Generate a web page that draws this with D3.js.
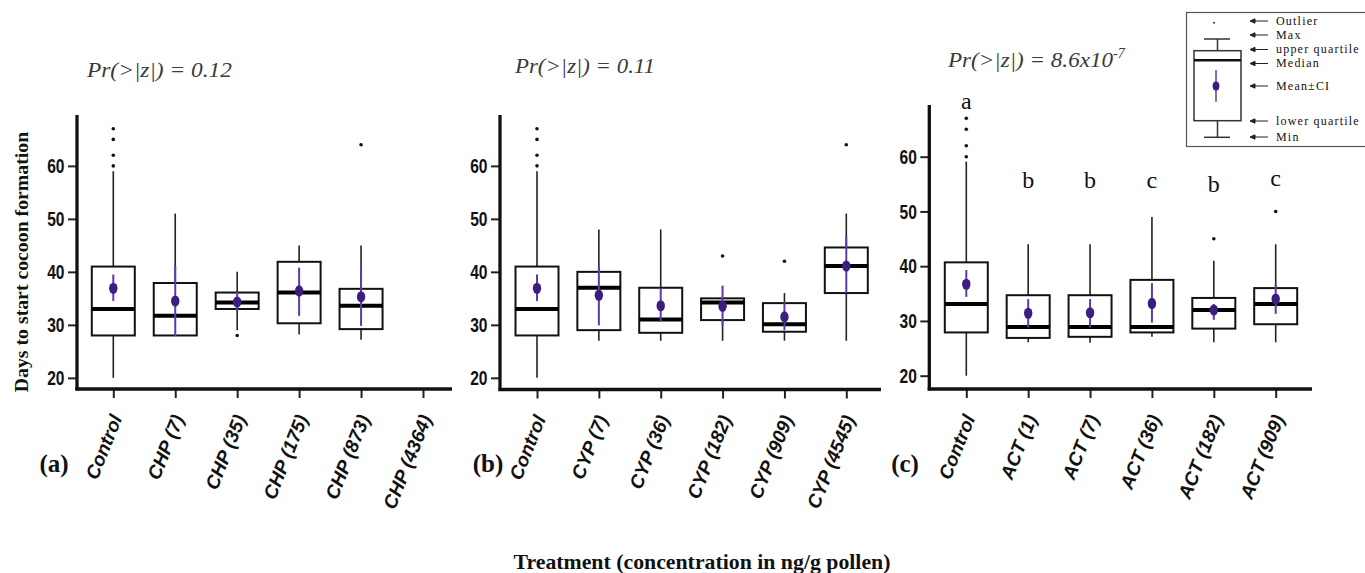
<!DOCTYPE html>
<html>
<head>
<meta charset="utf-8">
<script src="https://cdn.jsdelivr.net/npm/d3@7"></script>
<style>
  body { margin: 0; background: #fff; }
</style>
</head>
<body>
<svg id="chart"></svg>
<script>
// values (days to start cocoon formation)
const yTicks = [20, 30, 40, 50, 60];

const chpLabels = ["Control", "CHP (7)", "CHP (35)", "CHP (175)", "CHP (873)", "CHP (4364)"];
const chpBox = [[20, 28, 33, 41, 59], [28, 28, 31.7, 37.9, 51], [29, 33, 34.2, 36.1, 40], [28.2, 30.3, 36.1, 41.9, 45], [27.2, 29.2, 33.6, 36.8, 45], null];
const chpOut = [[60, 62, 65, 67], [], [28], [], [64], []];
const chpMean = [36.9, 34.5, 34.3, 36.4, 35.3, null];
const chpCI = [[34.5, 39.5], [27.9, 41.1], [32.5, 36.2], [31.7, 40.8], [29.8, 40.8], null];

const cypLabels = ["Control", "CYP (7)", "CYP (36)", "CYP (182)", "CYP (909)", "CYP (4545)"];
const cypBox = [[20, 28, 33, 41, 59], [27, 29, 37, 40, 48], [27, 28.5, 31, 37, 48], [27, 30.9, 34.2, 35, 35], [27, 28.7, 30.1, 34.1, 36], [27, 36, 41.1, 44.6, 51]];
const cypOut = [[60, 62, 65, 67], [], [], [43], [42], [64]];
const cypMean = [36.9, 35.6, 33.6, 33.5, 31.5, 41.1];
const cypCI = [[34.5, 39.5], [29.9, 41.3], [30.6, 36.9], [29.9, 37.4], [29, 34.3], [36, 46.6]];

const actLabels = ["Control", "ACT (1)", "ACT (7)", "ACT (36)", "ACT (182)", "ACT (909)"];
const actBox = [[20, 27.9, 33.1, 40.7, 59.1], [26.1, 26.9, 28.9, 34.7, 44], [26, 27.1, 28.9, 34.7, 44], [27.1, 27.9, 28.9, 37.5, 49], [26.1, 28.6, 32, 34.2, 41], [26.1, 29.4, 33.1, 36, 44]];
const actOut = [[60, 62, 65, 67], [], [], [], [45], [50]];
const actMean = [36.7, 31.4, 31.5, 33.2, 32, 34];
const actCI = [[34.4, 39.3], [28.8, 34], [28.8, 34], [29.7, 36.9], [30.2, 33.1], [31.3, 36.6]];
const actLetters = ["a", "b", "b", "c", "b", "c"];
const actLetterAt = [70.2, 55.6, 55.6, 55.7, 55, 56.1];

const legendLabels = ["Outlier", "Max", "upper quartile", "Median", "Mean\u00b1CI", "lower quartile", "Min"];

const width = 1365, height = 573;
const serif = "'Liberation Serif', 'Times New Roman', serif";
const sans = "'Liberation Sans', Arial, sans-serif";
const dotColor = "#3d1d80", ciColor = "#5b3caa";
const squeeze = 0.76; // condensed look of the tick numbers

const svg = d3.select("#chart")
    .attr("width", width)
    .attr("height", height)
    .attr("viewBox", [0, 0, width, height]);

function drawPanel(p, labels, box, out, mean, ci) {
  const x = d3.scalePoint().domain(labels).range([p.first, p.last]);
  const y = d3.scaleLinear().domain(p.domain).range([p.yBot, p.yTop]);
  const g = svg.append("g");

  // y axis
  g.append("g")
      .attr("transform", `translate(${p.x0},0)`)
      .call(d3.axisLeft(y).tickValues(yTicks).tickSize(9).tickPadding(3))
      .call(a => a.select(".domain").remove())
      .call(a => a.selectAll(".tick line").attr("stroke", "#222").attr("stroke-width", 2))
      .call(a => a.selectAll(".tick text")
          .attr("x", -12.5 / squeeze)
          .attr("transform", `scale(${squeeze},1)`)
          .attr("fill", "#111")
          .style("font-family", sans)
          .style("font-weight", "bold")
          .style("font-size", "20.5px"));
  g.append("line")
      .attr("x1", p.x0).attr("x2", p.x0)
      .attr("y1", p.yTop).attr("y2", p.yBot + 1.6)
      .attr("stroke", "#111").attr("stroke-width", 3.3);

  // x axis
  g.append("g")
      .attr("transform", `translate(0,${p.yBot})`)
      .call(d3.axisBottom(x).tickSize(9))
      .call(a => a.select(".domain").remove())
      .call(a => a.selectAll(".tick line").attr("stroke", "#222").attr("stroke-width", 2))
      .call(a => a.selectAll(".tick text")
          .attr("x", 0).attr("y", 0).attr("dy", "0.72em")
          .attr("transform", "translate(-4,24) rotate(-68)")
          .attr("text-anchor", "end")
          .attr("fill", "#111")
          .style("font-family", sans)
          .style("font-weight", "bold")
          .style("font-style", "italic")
          .style("font-size", "19px"));
  g.append("line")
      .attr("x1", p.x0 - 1.6).attr("x2", p.xEnd)
      .attr("y1", p.yBot).attr("y2", p.yBot)
      .attr("stroke", "#111").attr("stroke-width", 3.3);

  const bw = 43;
  const idx = d3.range(labels.length).filter(i => box[i]);
  const cx = i => x(labels[i]);

  const b = g.append("g");
  // whiskers
  b.selectAll(".wlo").data(idx).join("line")
      .attr("x1", cx).attr("x2", cx)
      .attr("y1", i => y(box[i][0])).attr("y2", i => y(box[i][1]))
      .attr("stroke", "#222").attr("stroke-width", 1.6);
  b.selectAll(".whi").data(idx).join("line")
      .attr("x1", cx).attr("x2", cx)
      .attr("y1", i => y(box[i][3])).attr("y2", i => y(box[i][4]))
      .attr("stroke", "#222").attr("stroke-width", 1.6);
  // boxes
  b.selectAll("rect").data(idx).join("rect")
      .attr("x", i => cx(i) - bw / 2)
      .attr("y", i => y(box[i][3]))
      .attr("width", bw)
      .attr("height", i => y(box[i][1]) - y(box[i][3]))
      .attr("fill", "none")
      .attr("stroke", "#111").attr("stroke-width", 2);
  // medians
  b.selectAll(".med").data(idx).join("line")
      .attr("x1", i => cx(i) - bw / 2).attr("x2", i => cx(i) + bw / 2)
      .attr("y1", i => y(box[i][2])).attr("y2", i => y(box[i][2]))
      .attr("stroke", "#000").attr("stroke-width", 4);
  // mean +- CI
  b.selectAll(".ci").data(idx.filter(i => ci[i])).join("line")
      .attr("x1", cx).attr("x2", cx)
      .attr("y1", i => y(ci[i][0])).attr("y2", i => y(ci[i][1]))
      .attr("stroke", ciColor).attr("stroke-width", 2);
  b.selectAll("ellipse").data(idx.filter(i => mean[i] != null)).join("ellipse")
      .attr("cx", cx).attr("cy", i => y(mean[i]))
      .attr("rx", 4.2).attr("ry", 5.6)
      .attr("fill", dotColor);
  // outliers
  const pts = idx.flatMap(i => out[i].map(v => ({ i, v })));
  b.selectAll("circle").data(pts).join("circle")
      .attr("cx", d => cx(d.i)).attr("cy", d => y(d.v))
      .attr("r", 1.8).attr("fill", "#111");

  return { x, y };
}

const pa = drawPanel({ x0: 77, xEnd: 452, first: 113.3, last: 423, yTop: 115, yBot: 389, domain: [17.9, 69.6] },
    chpLabels, chpBox, chpOut, chpMean, chpCI);
const pb = drawPanel({ x0: 500, xEnd: 881, first: 537, last: 846.3, yTop: 115, yBot: 389.5, domain: [17.8, 69.6] },
    cypLabels, cypBox, cypOut, cypMean, cypCI);
const pc = drawPanel({ x0: 929.3, xEnd: 1312, first: 966.3, last: 1275.7, yTop: 105, yBot: 389, domain: [17.57, 69.44] },
    actLabels, actBox, actOut, actMean, actCI);

// significance letters in panel (c)
svg.append("g").selectAll("text").data(actLetters).join("text")
    .attr("x", (d, i) => pc.x(actLabels[i]))
    .attr("y", (d, i) => pc.y(actLetterAt[i]))
    .attr("dy", "0.32em")
    .attr("text-anchor", "middle")
    .style("font-family", serif)
    .style("font-size", "24px")
    .attr("fill", "#111")
    .text(d => d);

// p-values
const pStyle = s => s.style("font-family", serif).style("font-style", "italic")
    .style("font-size", "22px").attr("fill", "#3a3a3a");
svg.append("text").attr("x", 87).attr("y", 77).call(pStyle)
    .attr("textLength", 145).attr("lengthAdjust", "spacingAndGlyphs")
    .text("Pr(>|z|) = 0.12");
svg.append("text").attr("x", 515).attr("y", 73).call(pStyle)
    .attr("textLength", 140).attr("lengthAdjust", "spacingAndGlyphs")
    .text("Pr(>|z|) = 0.11");
const p3 = svg.append("text").attr("x", 948).attr("y", 67).call(pStyle);
p3.append("tspan").attr("textLength", 165).attr("lengthAdjust", "spacingAndGlyphs").text("Pr(>|z|) = 8.6x10");
p3.append("tspan").attr("dy", -9).style("font-size", "14px").text("-7");

// panel tags
[["(a)", 54], ["(b)", 488], ["(c)", 905]].forEach(([t, cx]) => {
  svg.append("text").attr("x", cx).attr("y", 472)
      .attr("text-anchor", "middle")
      .style("font-family", serif).style("font-weight", "bold").style("font-size", "25px")
      .attr("fill", "#111").text(t);
});

// axis titles
svg.append("text")
    .attr("transform", "translate(28,262) rotate(-90)")
    .attr("text-anchor", "middle")
    .style("font-family", serif).style("font-weight", "bold").style("font-size", "19.8px")
    .attr("fill", "#111")
    .text("Days to start cocoon formation");
svg.append("text")
    .attr("x", 702).attr("y", 569)
    .attr("text-anchor", "middle")
    .style("font-family", serif).style("font-weight", "bold").style("font-size", "21.8px")
    .attr("fill", "#111")
    .text("Treatment (concentration in ng/g pollen)");

// legend key
const lg = svg.append("g");
lg.append("rect").attr("x", 1186.5).attr("y", 12.5).attr("width", 200).attr("height", 134)
    .attr("fill", "#fff").attr("stroke", "#555").attr("stroke-width", 1.2);
const ly = [21, 35, 49.5, 63.5, 86, 121, 137];
const kx = 1217.5;
lg.append("line").attr("x1", kx).attr("x2", kx).attr("y1", 39).attr("y2", 50.7).attr("stroke", "#333").attr("stroke-width", 1.5);
lg.append("line").attr("x1", kx).attr("x2", kx).attr("y1", 120.7).attr("y2", 137.3).attr("stroke", "#333").attr("stroke-width", 1.5);
lg.append("line").attr("x1", 1204).attr("x2", 1230).attr("y1", 39).attr("y2", 39).attr("stroke", "#333").attr("stroke-width", 1.5);
lg.append("line").attr("x1", 1204).attr("x2", 1230).attr("y1", 137.3).attr("y2", 137.3).attr("stroke", "#333").attr("stroke-width", 1.5);
lg.append("rect").attr("x", 1194).attr("y", 50.7).attr("width", 47).attr("height", 70)
    .attr("fill", "none").attr("stroke", "#333").attr("stroke-width", 1.5);
lg.append("line").attr("x1", 1194).attr("x2", 1241).attr("y1", 60.3).attr("y2", 60.3).attr("stroke", "#111").attr("stroke-width", 2.6);
lg.append("line").attr("x1", 1216).attr("x2", 1216).attr("y1", 70).attr("y2", 101.7).attr("stroke", ciColor).attr("stroke-width", 1.5);
lg.append("ellipse").attr("cx", 1216).attr("cy", 86).attr("rx", 3.4).attr("ry", 4.6).attr("fill", dotColor);
lg.append("circle").attr("cx", 1214).attr("cy", 22.7).attr("r", 1).attr("fill", "#333");

lg.selectAll(".arr").data(ly).join("path")
    .attr("d", d => `M1268,${d}H1251M1255,${d - 2.2}L1250,${d}L1255,${d + 2.2}Z`)
    .attr("stroke", "#222").attr("stroke-width", 1).attr("fill", "#222");
lg.selectAll(".lt").data(legendLabels).join("text")
    .attr("x", 1276).attr("y", (d, i) => ly[i]).attr("dy", "0.32em")
    .style("font-family", serif).style("font-size", "12px").style("letter-spacing", "1.2px")
    .attr("fill", "#111")
    .text(d => d);
</script>
</body>
</html>
